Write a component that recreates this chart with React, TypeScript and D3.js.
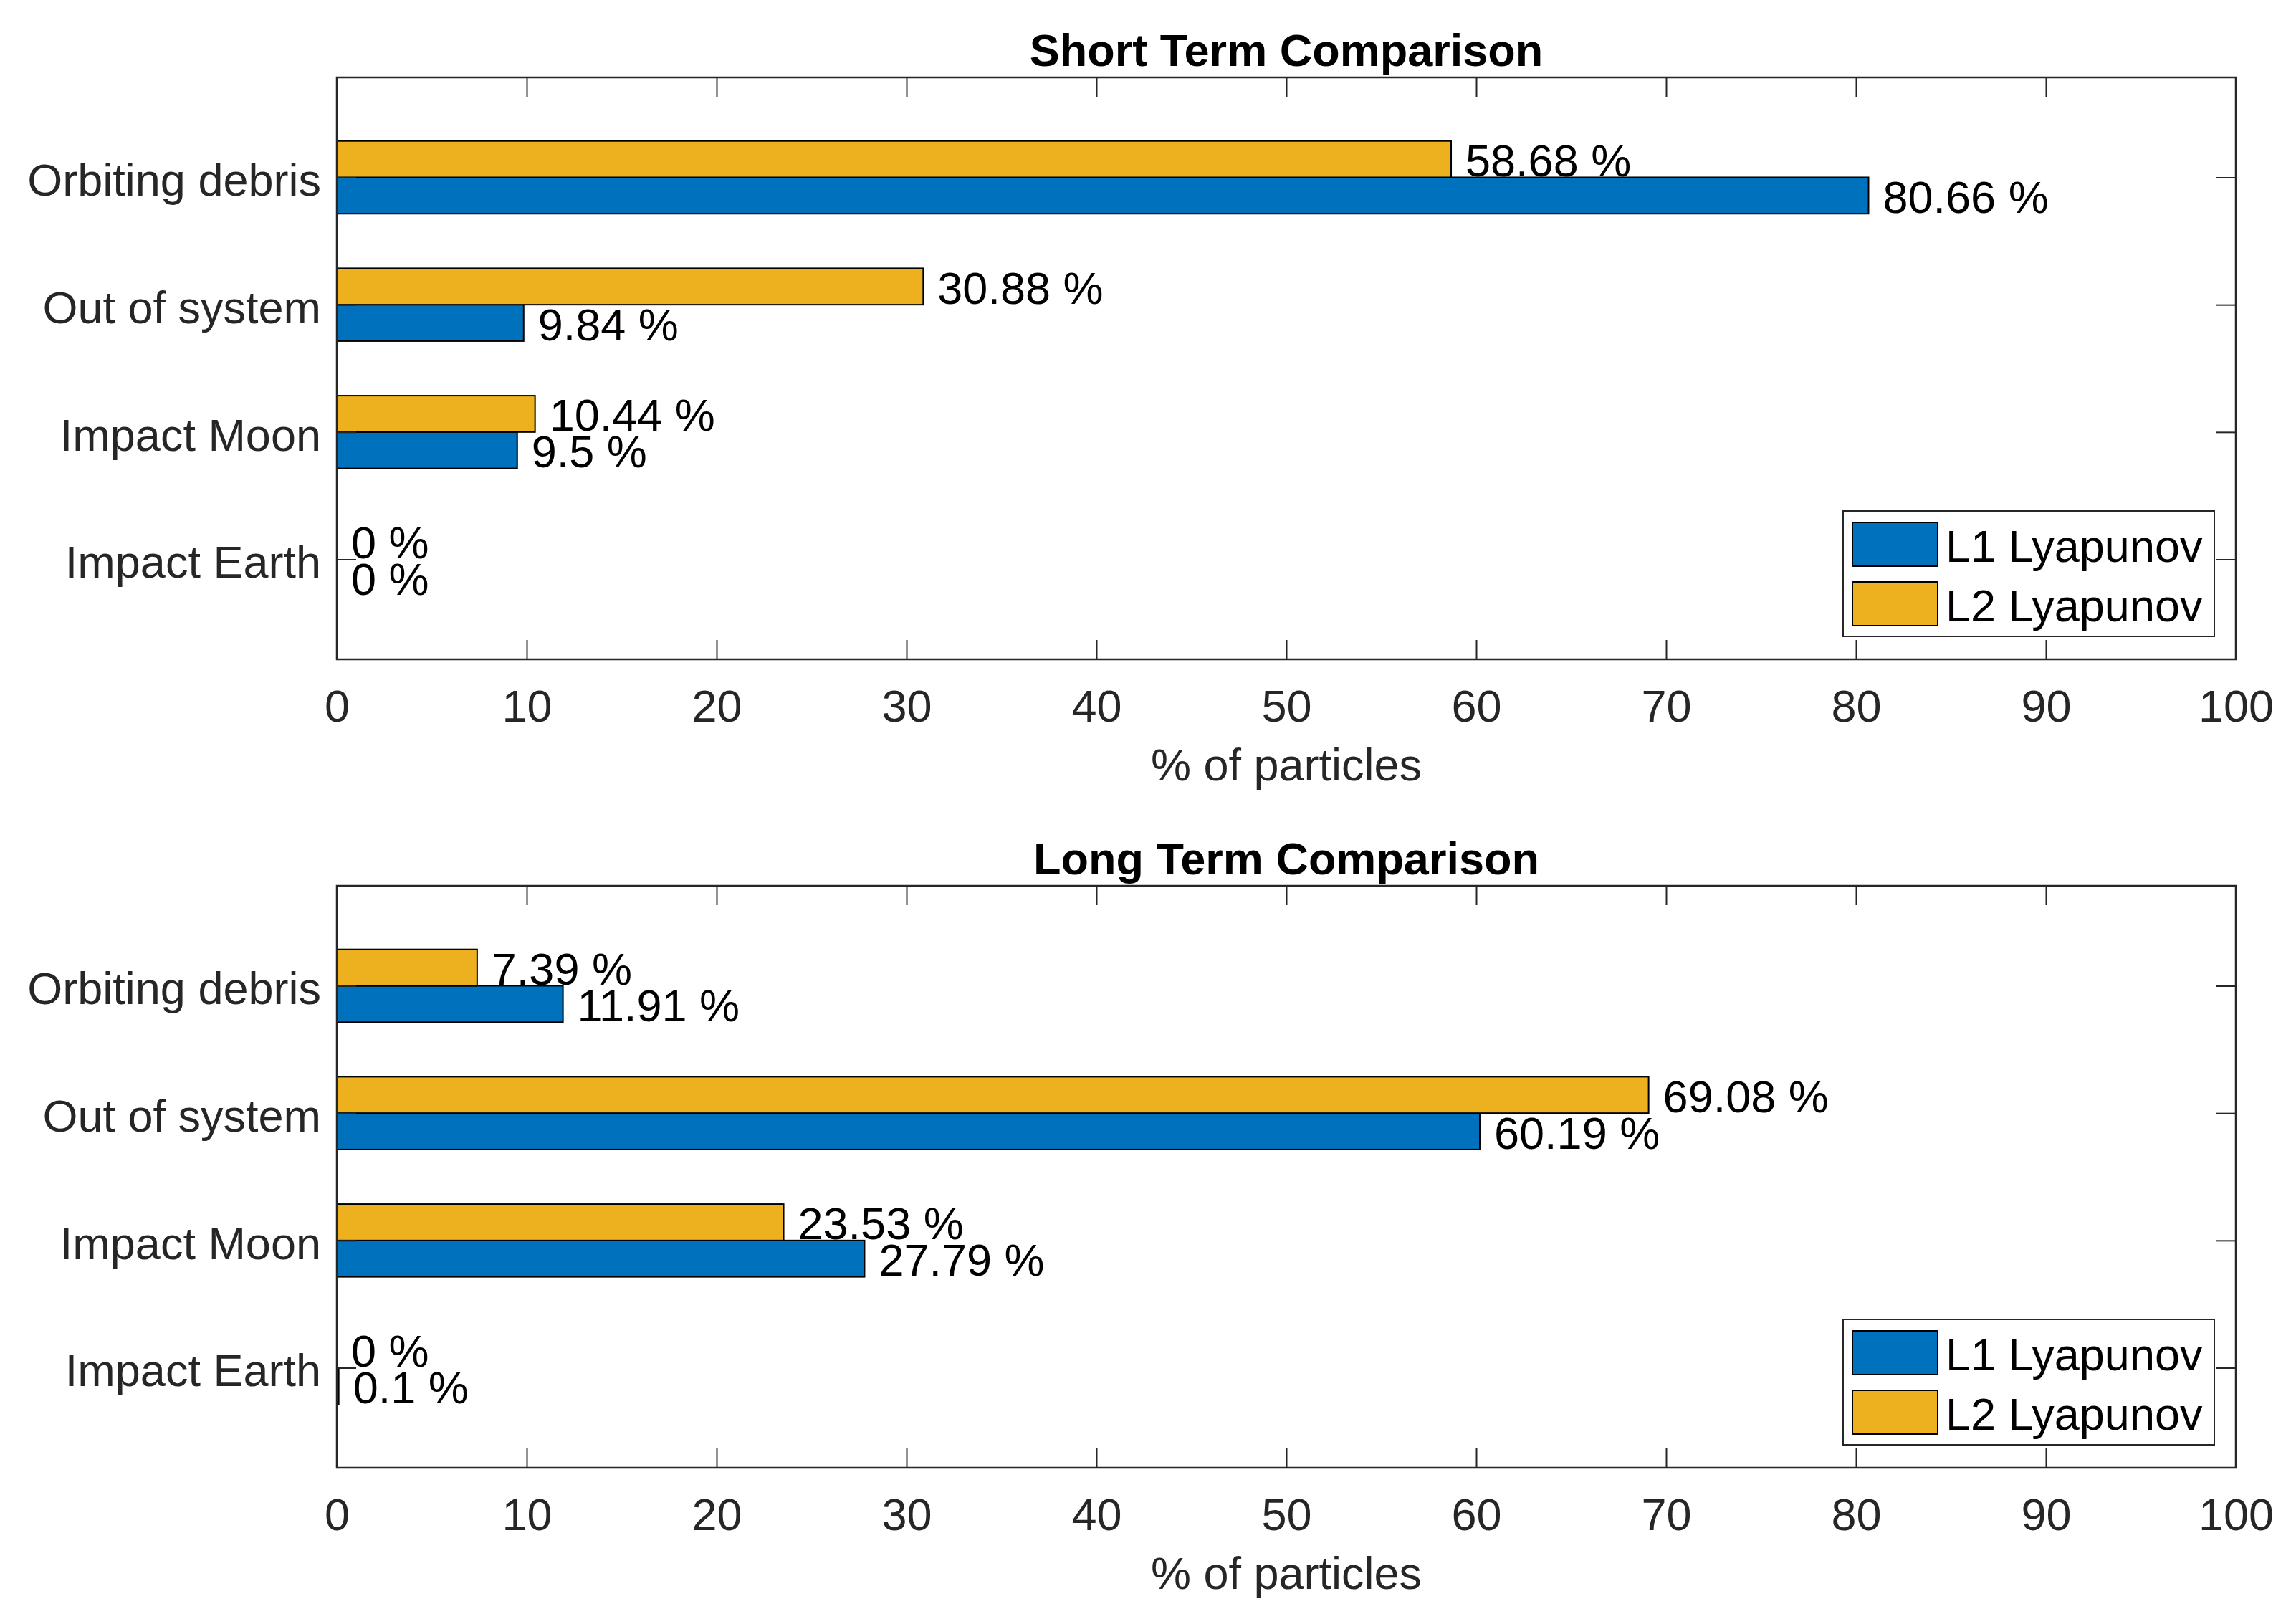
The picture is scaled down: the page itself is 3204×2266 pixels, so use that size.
import React, { useEffect, useRef } from "react";
import * as d3 from "d3";

// categories bottom -> top, as MATLAB barh puts them
const categories = ["Impact Earth", "Impact Moon", "Out of system", "Orbiting debris"];
const seriesNames = ["L1 Lyapunov", "L2 Lyapunov"];
const seriesColors = ["#0072BD", "#EDB120"];

const shortL1 = [0, 9.5, 9.84, 80.66];
const shortL2 = [0, 10.44, 30.88, 58.68];
const longL1 = [0.1, 27.79, 60.19, 11.91];
const longL2 = [0, 23.53, 69.08, 7.39];

const xTicks = [0, 10, 20, 30, 40, 50, 60, 70, 80, 90, 100];
const titles = ["Short Term Comparison", "Long Term Comparison"];
const xLabel = "% of particles";

const W = 3204;
const H = 2266;
const FONT = "'Liberation Sans', Arial, Helvetica, sans-serif";
const AX = "#262626";

interface Panel {
  title: string;
  top: number;
  l1: number[];
  l2: number[];
}

const panels: Panel[] = [
  { title: titles[0], top: 108, l1: shortL1, l2: shortL2 },
  { title: titles[1], top: 1236, l1: longL1, l2: longL2 },
];

const App: React.FC = () => {
  const chartRef = useRef<HTMLDivElement>(null);

  useEffect(() => {
    if (!chartRef.current) return;
    document.body.style.margin = "0";
    d3.select(chartRef.current).selectAll("*").remove();

    const svg = d3
      .select(chartRef.current)
      .append("svg")
      .attr("width", W)
      .attr("height", H)
      .style("display", "block")
      .style("background", "#fff")
      .attr("font-family", FONT);

    const left = 470;
    const right = 3120;
    const axH = 812;
    const tick = 27;
    const fs = 63;
    const groupW = 0.5714;
    const barW = groupW / 2;

    panels.forEach((p) => {
      const g = svg.append("g");
      const x = d3.scaleLinear().domain([0, 100]).range([left, right]);
      const y = d3
        .scaleLinear()
        .domain([0.215, 4.785])
        .range([p.top + axH, p.top]);

      const series = [p.l1, p.l2];

      // bars
      series.forEach((vals, si) => {
        const off = -groupW / 2 + barW * si; // bottom edge offset
        g.append("g")
          .selectAll("rect")
          .data(vals)
          .enter()
          .append("rect")
          .attr("x", x(0))
          .attr("width", (d) => x(d) - x(0))
          .attr("y", (d, i) => y(i + 1 + off + barW))
          .attr("height", y(0) - y(barW))
          .attr("fill", seriesColors[si])
          .attr("stroke", "#000")
          .attr("stroke-width", 2);
      });

      // value labels
      series.forEach((vals, si) => {
        const mid = -groupW / 2 + barW * si + barW / 2;
        g.append("g")
          .selectAll("text")
          .data(vals)
          .enter()
          .append("text")
          .attr("x", (d) => x(d) + 20)
          .attr("y", (d, i) => y(i + 1 + mid) + 24)
          .attr("font-size", fs)
          .attr("fill", "#000")
          .text((d) => `${d} %`);
      });

      // axes with inward ticks
      const bottom = g
        .append("g")
        .attr("transform", `translate(0,${p.top + axH})`)
        .call(
          d3
            .axisBottom(x)
            .tickValues(xTicks)
            .tickSizeInner(-tick)
            .tickSizeOuter(0)
            .tickPadding(42)
            .tickFormat((d) => String(d))
        );
      const leftAx = g
        .append("g")
        .attr("transform", `translate(${left},0)`)
        .call(
          d3
            .axisLeft(y)
            .tickValues([1, 2, 3, 4])
            .tickSizeInner(-tick)
            .tickSizeOuter(0)
            .tickPadding(22)
            .tickFormat((d) => categories[(d as number) - 1])
        );
      const topAx = g
        .append("g")
        .attr("transform", `translate(0,${p.top})`)
        .call(d3.axisTop(x).tickValues(xTicks).tickSizeInner(-tick).tickSizeOuter(0).tickFormat(() => ""));
      const rightAx = g
        .append("g")
        .attr("transform", `translate(${right},0)`)
        .call(d3.axisRight(y).tickValues([1, 2, 3, 4]).tickSizeInner(-tick).tickSizeOuter(0).tickFormat(() => ""));

      [bottom, leftAx, topAx, rightAx].forEach((a) => {
        a.attr("font-family", FONT).attr("font-size", fs).attr("color", AX);
        a.select(".domain").remove();
        a.selectAll("line").attr("stroke-width", 2);
        a.selectAll("text").attr("fill", AX);
      });
      leftAx.selectAll("text").attr("dy", "0.40em");

      // box
      g.append("rect")
        .attr("x", left)
        .attr("y", p.top)
        .attr("width", right - left)
        .attr("height", axH)
        .attr("fill", "none")
        .attr("stroke", AX)
        .attr("stroke-width", 2.5);

      // title
      g.append("text")
        .attr("x", (left + right) / 2)
        .attr("y", p.top - 16)
        .attr("text-anchor", "middle")
        .attr("font-size", fs)
        .attr("font-weight", "bold")
        .attr("fill", "#000")
        .text(p.title);

      // x label
      g.append("text")
        .attr("x", (left + right) / 2)
        .attr("y", p.top + axH + 169)
        .attr("text-anchor", "middle")
        .attr("font-size", fs)
        .attr("fill", AX)
        .text(xLabel);

      // legend
      const lx = 2572;
      const ly = p.top + axH - 32 - 175;
      const leg = g.append("g").attr("transform", `translate(${lx},${ly})`);
      leg
        .append("rect")
        .attr("width", 518)
        .attr("height", 175)
        .attr("fill", "#fff")
        .attr("stroke", AX)
        .attr("stroke-width", 2);
      seriesNames.forEach((name, i) => {
        const sy = 16 + i * 83;
        leg
          .append("rect")
          .attr("x", 13)
          .attr("y", sy)
          .attr("width", 119)
          .attr("height", 61)
          .attr("fill", seriesColors[i])
          .attr("stroke", "#000")
          .attr("stroke-width", 2);
        leg
          .append("text")
          .attr("x", 143)
          .attr("y", sy + 30.5 + 24)
          .attr("font-size", fs)
          .attr("fill", "#000")
          .text(name);
      });
    });
  }, []);

  return <div ref={chartRef} />;
};

export default App;
